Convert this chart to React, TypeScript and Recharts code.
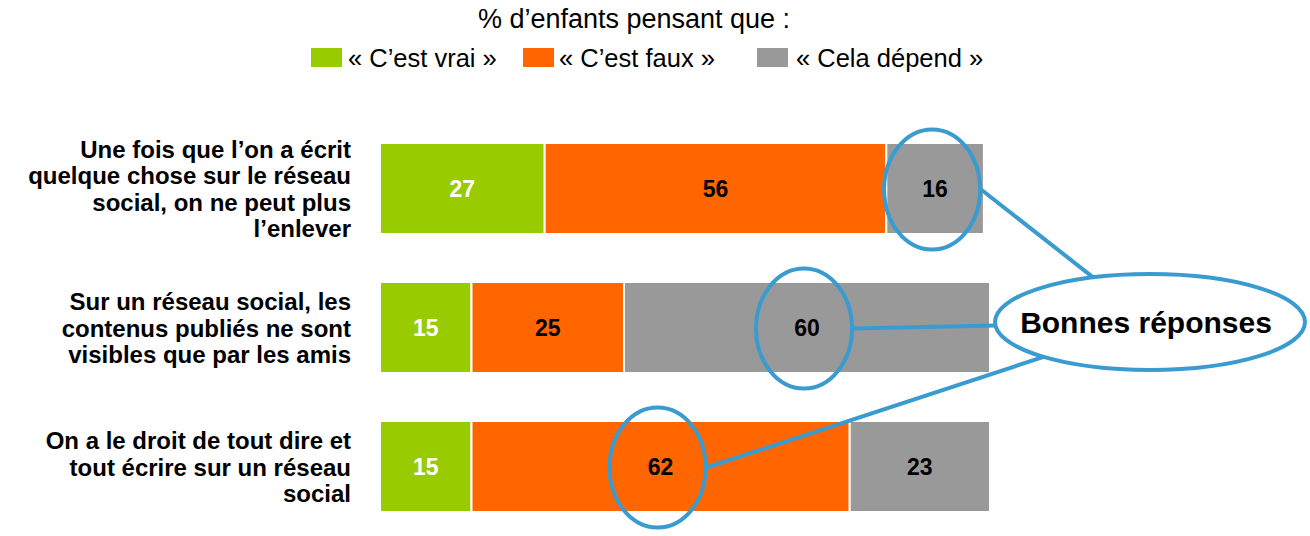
import { BarChart, Bar, XAxis, YAxis, LabelList } from 'recharts'

const categories = [
  'Une fois que l’on a écrit\nquelque chose sur le réseau\nsocial, on ne peut plus\nl’enlever',
  'Sur un réseau social, les\ncontenus publiés ne sont\nvisibles que par les amis',
  'On a le droit de tout dire et\ntout écrire sur un réseau\nsocial',
]
const vrai = [27, 15, 15]
const faux = [56, 25, 62]
const depend = [16, 60, 23]
// which answer is the right one, per question
const goodAnswer = ['depend', 'depend', 'faux']

const seriesKeys = ['vrai', 'faux', 'depend']
const seriesNames = ['« C’est vrai »', '« C’est faux »', '« Cela dépend »']
const seriesColors = ['#99cc00', '#ff6600', '#999999']
const labelColors = ['#ffffff', '#000000', '#000000']

const title = '% d’enfants pensant que :'
const calloutText = 'Bonnes réponses'

const data = categories.map((name, i) => ({
  name,
  vrai: vrai[i],
  faux: faux[i],
  depend: depend[i],
  good: goodAnswer[i],
}))

const FONT = '"Liberation Sans", Arial, Helvetica, sans-serif'
const BLUE = '#3a9bd0'

// big callout ellipse
const BIG = { cx: 1150, cy: 322, rx: 155, ry: 48 }
const SMALL_RX = 48
const SMALL_RY = 60

const LINE_H = 26.5

// eslint-disable-next-line @typescript-eslint/no-explicit-any
function CategoryTick({ y, payload }: any) {
  const lines = String(payload.value).split('\n')
  const first = y - ((lines.length - 1) * LINE_H) / 2 + 9
  return (
    <text x={351} y={first} textAnchor="end" fontFamily={FONT} fontSize={24} fontWeight="bold" fill="#000">
      {lines.map((l, i) => (
        <tspan key={i} x={351} y={first + i * LINE_H}>
          {l}
        </tspan>
      ))}
    </text>
  )
}

function goodMarker(key: string) {
  // eslint-disable-next-line @typescript-eslint/no-explicit-any
  return function Marker(props: any) {
    const { index } = props
    if (data[index]?.good !== key) return null
    const vb = props.viewBox ?? props
    const x = Number(vb.x)
    const y = Number(vb.y)
    const w = Number(vb.width)
    const h = Number(vb.height)
    const cx = x + w / 2 - 3
    const cy = y + h / 2 + 1
    const sx = cx + SMALL_RX + 1
    const sy = cy
    const dx = BIG.cx - sx
    const dy = BIG.cy - sy
    const s = 1 / Math.sqrt((dx / BIG.rx) ** 2 + (dy / BIG.ry) ** 2)
    const ex = BIG.cx - s * dx
    const ey = BIG.cy - s * dy
    return (
      <g>
        <ellipse cx={cx} cy={cy} rx={SMALL_RX} ry={SMALL_RY} fill="none" stroke={BLUE} strokeWidth={4} />
        <line x1={sx} y1={sy} x2={ex} y2={ey} stroke={BLUE} strokeWidth={4} />
      </g>
    )
  }
}

const legendSquareX = [311, 523, 757]
const legendTextX = [348, 559, 796]

export default function App() {
  return (
    <div style={{ position: 'absolute', left: 0, top: 0, width: 1310, height: 536, background: '#fff' }}>
      <BarChart
        width={1310}
        height={536}
        data={data}
        layout="vertical"
        margin={{ top: 119, right: 320, bottom: 0, left: 0 }}
        barCategoryGap={24}
      >
        <XAxis type="number" domain={[0, 100]} hide />
        <YAxis type="category" dataKey="name" width={380} axisLine={false} tickLine={false} tick={<CategoryTick />} interval={0} />
        {seriesKeys.map((k, i) => (
          <Bar key={k} dataKey={k} name={seriesNames[i]} stackId="a" fill={seriesColors[i]} stroke="#ffffff" strokeWidth={2} isAnimationActive={false}>
            <LabelList dataKey={k} position="center" fill={labelColors[i]} fontFamily={FONT} fontSize={23} fontWeight="bold" />
            <LabelList dataKey={k} content={goodMarker(k)} />
          </Bar>
        ))}
      </BarChart>
      <svg width={1310} height={536} style={{ position: 'absolute', left: 0, top: 0, pointerEvents: 'none' }}>
        <text x={634} y={28} textAnchor="middle" fontFamily={FONT} fontSize={27} fill="#000">
          {title}
        </text>
        {seriesNames.map((n, i) => (
          <g key={n}>
            <rect x={legendSquareX[i]} y={48} width={31} height={19} fill={seriesColors[i]} />
            <text x={legendTextX[i]} y={67} fontFamily={FONT} fontSize={25.5} fill="#000">
              {n}
            </text>
          </g>
        ))}
        <ellipse cx={BIG.cx} cy={BIG.cy} rx={BIG.rx} ry={BIG.ry} fill="#fff" stroke={BLUE} strokeWidth={4} />
        <text x={BIG.cx - 4} y={BIG.cy + 11} textAnchor="middle" fontFamily={FONT} fontSize={30} fontWeight="bold" fill="#000">
          {calloutText}
        </text>
      </svg>
    </div>
  )
}
